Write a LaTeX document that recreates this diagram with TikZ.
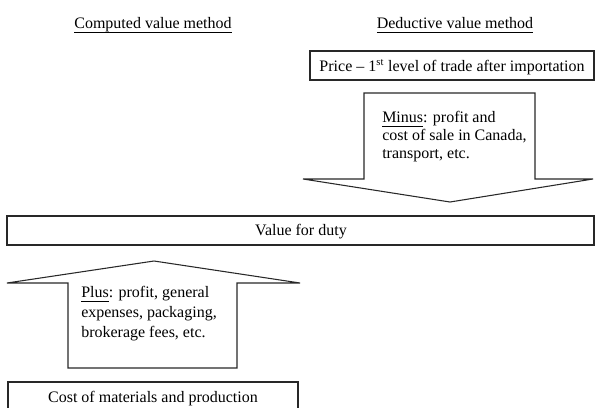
\documentclass[tikz,border=0pt]{standalone}
\usepackage{fontspec}
\setmainfont{Liberation Serif}
\newcommand{\uln}[1]{\setbox0\hbox{#1}\rlap{\rule[-3.6pt]{\wd0}{0.8pt}}\box0}

\begin{document}
\begin{tikzpicture}[x=0.75pt,y=0.75pt,yscale=-1,xscale=1,
    txt/.style={inner sep=0.75pt,font=\fontsize{12}{14}\selectfont},
    shp/.style={line width=0.8,color={rgb, 255:red, 40; green, 40; blue, 40 }}]
\useasboundingbox (0,0) rectangle (595,407);

%Shape: Rectangle 
    \draw [shp] (310,51) rectangle (594,80) ;
%Shape: Down Arrow 
    \draw [shp] (364,93) -- (535,93) -- (535,179) -- (593,179) -- (450,202) -- (303,179) -- (364,179) -- cycle ;
%Shape: Rectangle 
    \draw [shp] (7,216) rectangle (594,245) ;
%Shape: Up Arrow 
    \draw [shp] (68,368) -- (68,283) -- (7,283) -- (154,261) -- (300,283) -- (237,283) -- (237,368) -- cycle ;
%Shape: Rectangle 
    \draw [shp] (8,382) rectangle (298,412) ;

% Text Node
    \node [txt,anchor=base] (computed) at (153,28) {\uln{Computed value method}};
% Text Node
    \node [txt,anchor=base] (deductive) at (455,28) {\uln{Deductive value method}};
% Text Node
    \node [txt,anchor=base] (price) at (452,71) {Price -- 1\textsuperscript{st} level of trade after importation};
% Text Node
    \node [txt,anchor=base west,align=left,font=\fontsize{12}{13.4}\selectfont] (minus) at (381,158) {\uln{Minus}: profit and\\cost of sale in Canada,\\transport, etc.};
% Text Node
    \node [txt,anchor=base] (duty) at (301,235) {Value for duty};
% Text Node
    \node [txt,anchor=base west,align=left,font=\fontsize{12}{15}\selectfont] (plus) at (80,337) {\uln{Plus}: profit, general\\expenses, packaging,\\brokerage fees, etc.};
% Text Node
    \node [txt,anchor=base] (cost) at (153,402) {Cost of materials and production};
\end{tikzpicture}
\end{document}
